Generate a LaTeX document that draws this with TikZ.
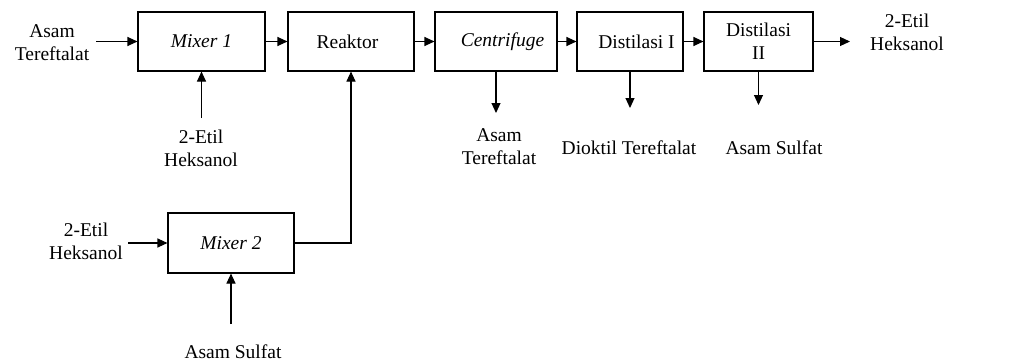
\documentclass[tikz,border=0pt]{standalone}
\usepackage{fontspec}
\setmainfont{Liberation Serif}
\usetikzlibrary{arrows.meta}
\begin{document}
\begin{tikzpicture}[x=1pt,y=-1pt,
  every node/.style={font=\fontsize{19.5}{23}\selectfont},
  blk/.style={draw, line width=1.1pt, minimum height=59pt, inner sep=0pt, align=center},
  lbl/.style={align=center, inner sep=0pt},
  flow/.style={line width=1.1pt, -{Triangle[length=10pt,width=9pt]}}]
\useasboundingbox (0,0) rectangle (1026,362);
% boxes
\node[blk, minimum width=127pt] (m1) at (201.5,41.5) {\itshape Mixer 1};
\node[blk, minimum width=126pt] (r) at (351,41.5) {Reaktor\hspace*{7pt}};
\node[blk, minimum width=122pt] (c) at (496,41.5) {\hspace*{13pt}\itshape Centrifuge};
\node[blk, minimum width=106pt] (d1) at (630,41.5) {\hspace*{13pt}Distilasi I};
\node[blk, minimum width=109pt] (d2) at (758.5,41.5) {Distilasi\\II};
\node[blk, minimum width=126pt, minimum height=60pt] (m2) at (231,243) {\itshape Mixer 2};
% labels
\node[lbl] (in1) at (52,43) {Asam\\Tereftalat};
\node[lbl] (in2) at (201,148) {2-Etil\\Heksanol};
\node[lbl] (out) at (907,32) {2-Etil\\Heksanol};
\node[lbl] (cout) at (499,147) {Asam\\Tereftalat};
\node[lbl] (dout) at (629,148) {Dioktil Tereftalat};
\node[lbl] (d2out) at (774,148) {Asam Sulfat};
\node[lbl] (in3) at (86,241) {2-Etil\\Heksanol};
\node[lbl] (in4) at (233,352) {Asam Sulfat};
% free ends
\coordinate (a1) at (96,41.5);
\coordinate (a2) at (201.5,118);
\coordinate (a3) at (850,41.5);
\coordinate (a4) at (496,113);
\coordinate (a5) at (630,108);
\coordinate (a6) at (758.5,105);
\coordinate (a7) at (128,243);
\coordinate (a8) at (231,324);
% connectors
\draw[flow] (a1) -- (m1.west);
\draw[flow] (m1.east) -- (r.west);
\draw[flow] (r.east) -- (c.west);
\draw[flow] (c.east) -- (d1.west);
\draw[flow] (d1.east) -- (d2.west);
\draw[flow] (d2.east) -- (a3);
\draw[flow] (a2) -- (m1.south);
\draw[flow] (c.south) -- (a4);
\draw[flow] (d1.south) -- (a5);
\draw[flow] (d2.south) -- (a6);
\draw[flow] (m2.east) -| (r.south);
\draw[flow] (a7) -- (m2.west);
\draw[flow] (a8) -- (m2.south);
\end{tikzpicture}
\end{document}
